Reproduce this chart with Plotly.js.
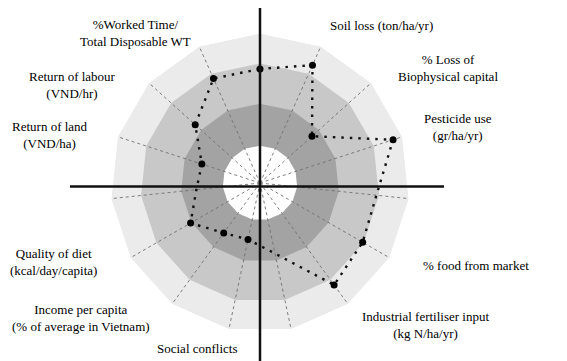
<!DOCTYPE html>
<html>
<head>
<meta charset="utf-8">
<script src="https://cdn.plot.ly/plotly-3.0.1.min.js"></script>
<style>
  html, body { margin: 0; padding: 0; background: #ffffff; }
  #chart { width: 567px; height: 361px; }
</style>
</head>
<body>
<div id="chart"></div>
<script>
// Fifteen spokes of the sustainability diagram, clockwise from the top
const spokes = ['S01', 'S02', 'S03', 'S04', 'S05', 'S06', 'S07', 'S08',
                'S09', 'S10', 'S11', 'S12', 'S13', 'S14', 'S15'];

// Score on each spoke (outer edge of the diagram = 100)
const spokeScores = [76.3, 86.3, 46.8, 93.6, 78.3, 79.3, 84.3, 48.2,
                     38.6, 41.3, 53.6, 42.8, 40.9, 58.3, 76.5];

// Spokes that carry a measured indicator (drawn with a dot)
const measured = [true, true, true, true, false, true, true, false,
                  true, true, true, false, true, true, true];

// Reference bands, from the outer light ring inwards to the white core
const bandLimits = [100, 80, 53, 25];
const bandColors = ['#ebebeb', '#c8c8c8', '#a3a3a3', '#ffffff'];

// Indicator names written around the diagram
const indicatorLabels = [
  '%Worked Time/<br>Total Disposable WT',
  'Soil loss (ton/ha/yr)',
  '% Loss of<br>Biophysical capital',
  'Pesticide use<br>(gr/ha/yr)',
  '% food from market',
  'Industrial fertiliser input<br>(kg N/ha/yr)',
  'Social conflicts',
  'Income per capita<br>(% of average in Vietnam)',
  'Quality of diet<br>(kcal/day/capita)',
  'Return of land<br>(VND/ha)',
  'Return of labour<br>(VND/hr)'
];

// ---- layout geometry (pixels in a 567 x 361 page) ----
const W = 567, H = 361;
const cx = 260, cy = 183, R = 149.5;         // centre and outer radius of the diagram
const labelPos = [
  [135, 33], [381, 25], [448, 67.5], [458, 127], [476, 265], [425, 324.5],
  [197, 348], [81, 317.5], [53, 261.5], [50, 135], [72, 84.5]
];
const labelFont = { family: 'Times New Roman, Liberation Serif, DejaVu Serif, serif', size: 13, color: '#000000' };

const closeLoop = arr => arr.concat([arr[0]]);

const traces = [];

// Concentric bands as filled 15-sided polygons
bandLimits.forEach((lim, i) => {
  traces.push({
    type: 'scatterpolar',
    r: closeLoop(spokes.map(() => lim)),
    theta: closeLoop(spokes),
    mode: 'lines',
    fill: 'toself',
    fillcolor: bandColors[i],
    line: { width: 0, color: bandColors[i] },
    hoverinfo: 'skip',
    showlegend: false
  });
});

// Dashed spokes from the centre to the outer edge
const spokeR = [], spokeT = [];
spokes.forEach(s => { spokeR.push(0, 100, null); spokeT.push(s, s, null); });
traces.push({
  type: 'scatterpolar',
  r: spokeR,
  theta: spokeT,
  mode: 'lines',
  connectgaps: false,
  line: { color: '#707070', width: 0.9, dash: '3px,3px' },
  hoverinfo: 'skip',
  showlegend: false
});

// Dotted outline joining the scores
traces.push({
  type: 'scatterpolar',
  r: closeLoop(spokeScores),
  theta: closeLoop(spokes),
  mode: 'lines',
  line: { color: '#111111', width: 2.4, dash: '2.5px,6px' },
  hoverinfo: 'skip',
  showlegend: false
});

// Dots on the measured indicators
traces.push({
  type: 'scatterpolar',
  r: spokeScores.filter((v, i) => measured[i]),
  theta: spokes.filter((s, i) => measured[i]),
  mode: 'markers',
  marker: { color: '#000000', size: 7 },
  hoverinfo: 'skip',
  showlegend: false
});

const annotations = indicatorLabels.map((txt, i) => ({
  text: txt,
  xref: 'paper', yref: 'paper',
  x: labelPos[i][0] / W,
  y: 1 - labelPos[i][1] / H,
  xanchor: 'center', yanchor: 'middle',
  align: 'center',
  showarrow: false,
  font: labelFont
}));

// Black cross through the centre
const shapes = [
  { type: 'line', xref: 'paper', yref: 'paper', layer: 'above',
    x0: 70 / W, x1: 444 / W, y0: 1 - 186.5 / H, y1: 1 - 186.5 / H,
    line: { color: '#111111', width: 2.5 } },
  { type: 'line', xref: 'paper', yref: 'paper', layer: 'above',
    x0: cx / W, x1: cx / W, y0: 1 - 8 / H, y1: 0,
    line: { color: '#111111', width: 2.5 } }
];

const layout = {
  width: W, height: H,
  margin: { l: 0, r: 0, t: 0, b: 0, pad: 0 },
  paper_bgcolor: '#ffffff',
  font: labelFont,
  showlegend: false,
  polar: {
    domain: {
      x: [(cx - R) / W, (cx + R) / W],
      y: [(H - cy - R) / H, (H - cy + R) / H]
    },
    gridshape: 'linear',
    bgcolor: 'rgba(0,0,0,0)',
    radialaxis: { range: [0, 100], visible: false, showgrid: false },
    angularaxis: {
      type: 'category',
      categoryorder: 'array',
      categoryarray: spokes,
      rotation: 90,
      direction: 'clockwise',
      showgrid: false,
      showline: false,
      showticklabels: false,
      ticks: ''
    }
  },
  annotations: annotations,
  shapes: shapes
};

Plotly.newPlot('chart', traces, layout, { staticPlot: true, displayModeBar: false });
</script>
</body>
</html>
